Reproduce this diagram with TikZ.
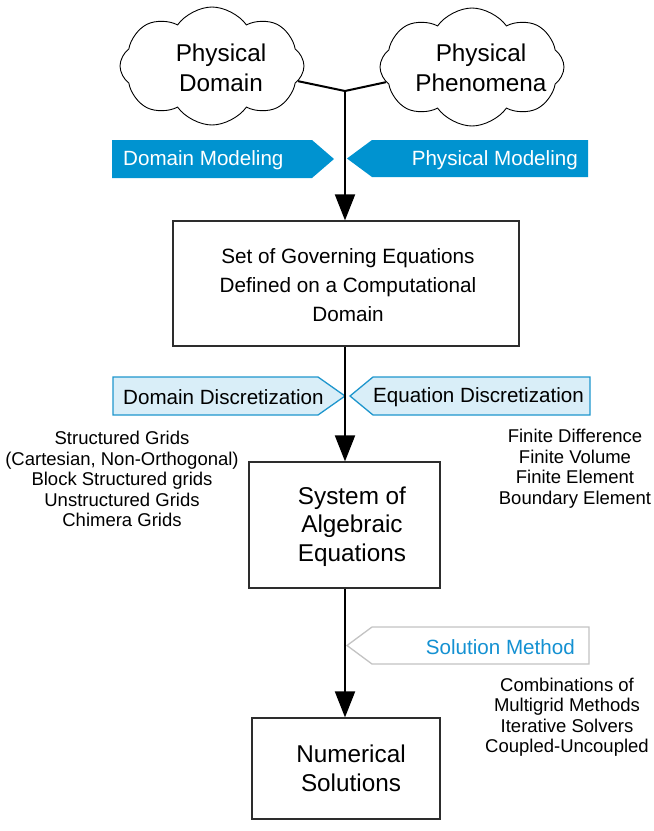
\documentclass[tikz,border=0pt]{standalone}
\usepackage{fontspec}
\setmainfont{Liberation Sans}
\usetikzlibrary{shapes.symbols,arrows.meta}
\definecolor{bannerblue}{RGB}{0,147,208}
\definecolor{lightfill}{RGB}{217,238,248}
\definecolor{lightborder}{RGB}{30,150,205}
\definecolor{grayborder}{RGB}{195,195,195}
\definecolor{boxline}{RGB}{45,45,45}
\definecolor{soltext}{RGB}{20,145,210}
\begin{document}
\begin{tikzpicture}[x=1pt,y=-1pt,
  cloudshape/.style={cloud, cloud puffs=8, cloud puff arc=110, draw, line width=0.9pt,
    minimum width=184pt, minimum height=118pt, inner sep=0pt},
  bigtext/.style={font=\fontsize{24.3}{30}\selectfont, align=center, inner sep=0pt},
  boxtext/.style={font=\fontsize{20.7}{29}\selectfont, align=center, inner sep=0pt},
  bantext/.style={font=\fontsize{20.6}{24}\selectfont, inner sep=0pt},
  listtext/.style={font=\fontsize{18.5}{20.5}\selectfont, align=center, inner sep=0pt},
  stepbox/.style={draw=boxline, line width=1.2pt, inner sep=0pt},
  flow/.style={line width=2pt, -{Triangle[length=26pt,width=20pt]}},
  joinline/.style={line width=2pt},
  darkbanner/.style={fill=bannerblue},
  lightbanner/.style={fill=lightfill, draw=lightborder, line width=1.3pt},
  graybanner/.style={fill=white, draw=grayborder, line width=1.3pt},
]
\useasboundingbox (0,0) rectangle (654,831);

% clouds
\node[cloudshape] (lc) at (212,66) {};
\node[bigtext] (lct) at (221,68) {Physical\\Domain};
\node[cloudshape] (rc) at (472,67) {};
\node[bigtext] (rct) at (481,68) {Physical\\Phenomena};

% junction
\coordinate (j) at (345,91);
\draw[joinline] (lc.-10) -- (j);
\draw[joinline] (rc.190) -- (j);

% boxes
\node[stepbox, minimum width=346pt, minimum height=125pt] (b1) at (346,283.5) {};
\node[boxtext] (b1t) at (348,285) {Set of Governing Equations\\Defined on a Computational\\Domain};
\node[stepbox, minimum width=191pt, minimum height=126pt] (b2) at (344.5,525) {};
\node[bigtext, font=\fontsize{24.3}{28.5}\selectfont] (b2t) at (352,526.5) {System of\\Algebraic\\Equations};
\node[stepbox, minimum width=188pt, minimum height=101pt] (b3) at (346,768.5) {};
\node[bigtext, font=\fontsize{24.3}{29}\selectfont] (b3t) at (351,768.5) {Numerical\\Solutions};

% banners
\fill[darkbanner] (112,140) -- (312,140) -- (334,159) -- (312,178) -- (112,178) -- cycle;
\node[bantext, text=white, anchor=west] (dm) at (123,160.5) {Domain Modeling};
\fill[darkbanner] (347,158.5) -- (372,140) -- (588,140) -- (588,177) -- (372,177) -- cycle;
\node[bantext, text=white, anchor=east] (pm) at (578,160) {Physical Modeling};

\draw[lightbanner] (113,377) -- (318,377) -- (345,396) -- (318,415) -- (113,415) -- cycle;
\node[bantext, anchor=west] (dd) at (123,397.5) {Domain Discretization};
\draw[lightbanner] (350,396) -- (373,377) -- (590,377) -- (590,415) -- (373,415) -- cycle;
\node[bantext, anchor=east] (ed) at (584,397.5) {Equation Discretization};

\draw[graybanner] (347,645.5) -- (372,627) -- (589,627) -- (589,664) -- (372,664) -- cycle;
\node[bantext, text=soltext, anchor=east] (sm) at (575,647) {Solution Method};

% flow arrows
\draw[flow] (j) -- (b1.north -| j);
\draw[flow] (b1.south -| j) -- (b2.north -| j);
\draw[flow] (b2.south -| j) -- (b3.north -| j);

% lists
\node[listtext] (gl) at (122,479) {Structured Grids\\(Cartesian, Non-Orthogonal)\\Block Structured grids\\Unstructured Grids\\Chimera Grids};
\node[listtext] (fl) at (575,468.5) {Finite Difference\\Finite Volume\\Finite Element\\Boundary Element};
\node[listtext] (cl) at (567,717) {Combinations of\\Multigrid Methods\\Iterative Solvers\\Coupled-Uncoupled};
\end{tikzpicture}
\end{document}
